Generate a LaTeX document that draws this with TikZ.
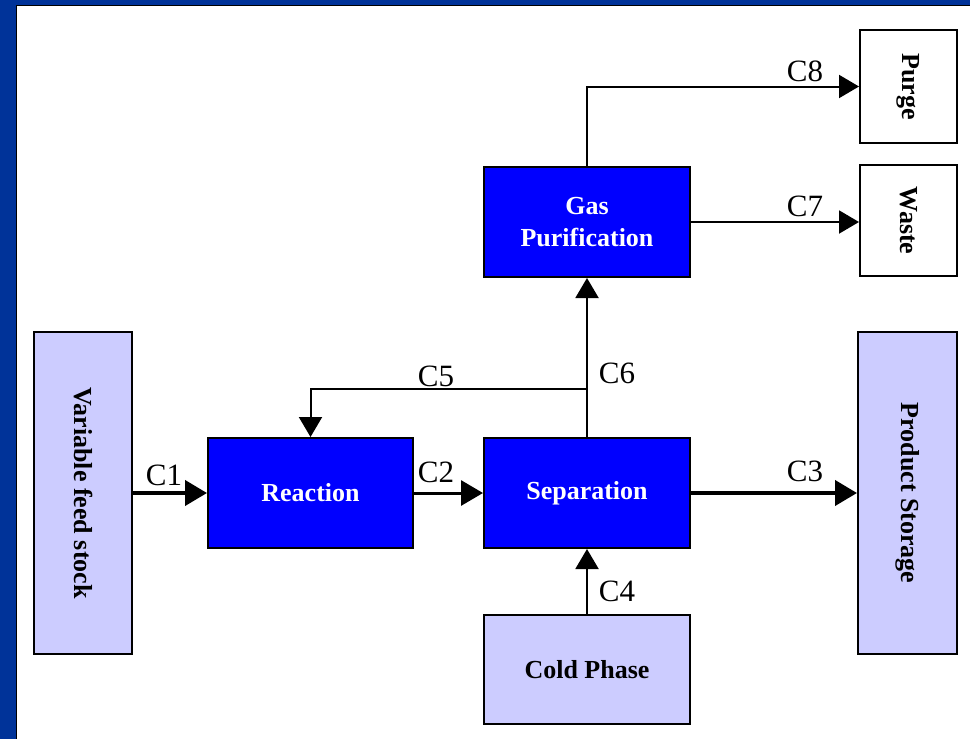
\documentclass[tikz,border=0pt]{standalone}
\usepackage{fontspec}
\setmainfont{Liberation Serif}
\usetikzlibrary{arrows.meta}
\definecolor{frameblue}{RGB}{0,51,153}
\definecolor{procblue}{RGB}{0,0,255}
\definecolor{lavender}{RGB}{204,204,255}

\begin{document}
\begin{tikzpicture}[x=1pt,y=-1pt,
  box/.style={draw=black, line width=2pt, inner sep=0pt, align=center,
    font=\fontsize{26}{32}\selectfont\bfseries},
  proc/.style={box, fill=procblue, text=white},
  store/.style={box, fill=lavender},
  sink/.style={box, fill=white},
  flow/.style={line width=2pt, -{Triangle[length=20pt,width=23pt]}},
  bigflow/.style={line width=4pt, -{Triangle[length=22pt,width=25pt]}},
  midflow/.style={line width=3pt, -{Triangle[length=22pt,width=25pt]}},
  lbl/.style={inner sep=0pt, font=\fontsize{31}{34}\selectfont}
]
\useasboundingbox (0,0) rectangle (970,739);

% slide frame
\fill[frameblue] (0,0) rectangle (970,739);
\fill[white] (16,5) rectangle (970,739);
\draw[black, line width=1.2pt] (16.5,739) -- (16.5,5.5) -- (970,5.5);

% process units
\node[proc, minimum width=205pt, minimum height=110pt] (reaction) at (310.5,493) {Reaction};
\node[proc, minimum width=206pt, minimum height=110pt] (sep) at (587,493) {Separation};
\node[proc, minimum width=206pt, minimum height=110pt] (gas) at (587,222) {Gas\\Purification};
\node[store, minimum width=206pt, minimum height=109pt] (cold) at (587,669.5) {Cold Phase};

% feeds and outlets, labels set sideways
\node[store, minimum width=98pt, minimum height=322pt] (feed) at (83,493) {\rotatebox{-90}{Variable feed stock}};
\node[store, minimum width=99pt, minimum height=322pt] (product) at (907.5,493) {\rotatebox{-90}{Product Storage}};
\node[sink, minimum width=97pt, minimum height=113pt] (purge) at (908.5,86.5) {\rotatebox{-90}{Purge}};
\node[sink, minimum width=97pt, minimum height=111pt] (waste) at (908.5,220.5) {\rotatebox{-90}{Waste}};

% streams
\draw[bigflow] (feed) -- (reaction);
\draw[midflow] (reaction) -- (sep);
\draw[bigflow] (sep) -- (product);
\draw[flow] (cold) -- (sep);
\draw[flow] (sep) -- (gas);
\coordinate (split) at (587,389);
\draw[flow] (split) -| (reaction.north);
\draw[flow] (gas.east) -- (gas.east -| waste.west);
\draw[flow] (gas.north) |- (purge.west);

% stream labels
\node[lbl] (l1) at (164,475) {C1};
\node[lbl] (l2) at (436,472) {C2};
\node[lbl] (l3) at (805,471) {C3};
\node[lbl] (l4) at (617,591) {C4};
\node[lbl] (l5) at (436,376) {C5};
\node[lbl] (l6) at (617,373) {C6};
\node[lbl] (l7) at (805,206) {C7};
\node[lbl] (l8) at (805,71) {C8};
\end{tikzpicture}
\end{document}
